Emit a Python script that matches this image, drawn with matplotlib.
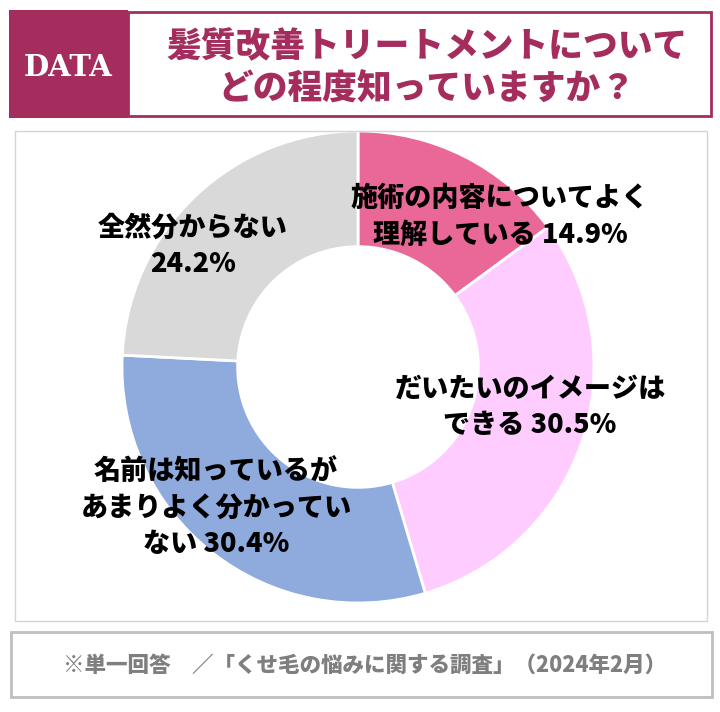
import matplotlib
matplotlib.use("Agg")
import matplotlib.pyplot as plt
from matplotlib.patches import Rectangle

plt.rcParams['font.family'] = ['Noto Sans CJK JP', 'DejaVu Sans']

labels = ["施術の内容についてよく\n理解している", "だいたいのイメージは\nできる",
          "名前は知っているが\nあまりよく分かってい\nない", "全然分からない\n"]
values = [14.9, 30.5, 30.4, 24.2]
colors = ["#E96897", "#FFCCFF", "#8FAADC", "#D9D9D9"]
# label centres in pixels (x, y from top)
label_pos = [(500, 216), (530, 407), (216, 507), (193, 246)]

title = "髪質改善トリートメントについて\nどの程度知っていますか？"
footer = "※単一回答　／「くせ毛の悩みに関する調査」（2024年2月）"
accent = "#A52D5E"

W, H = 720, 712
fig = plt.figure(figsize=(W / 100, H / 100), dpi=100)


def box(x0, y0, x1, y1, **kw):
    # pixel box, y measured from the top
    fig.patches.append(Rectangle((x0 / W, 1 - y1 / H), (x1 - x0) / W, (y1 - y0) / H,
                                 transform=fig.transFigure, **kw))


def ftext(x, y, s, **kw):
    fig.text(x / W, 1 - y / H, s, **kw)


# header
box(128, 12, 711, 116, facecolor="white", edgecolor=accent, linewidth=2)
box(9, 10, 128, 118, facecolor=accent, edgecolor="none")
ftext(68, 68, "DATA", color="white", fontsize=21, fontweight="bold",
      family="DejaVu Serif", ha="center", va="center")
ftext(427, 68, title, color=accent, fontsize=25, fontweight="heavy",
      ha="center", va="center", linespacing=1.25)

# chart panel and footer
box(15, 131, 707, 621, facecolor="none", edgecolor="#D4D4D4", linewidth=1)
box(11, 632, 712, 697, facecolor="none", edgecolor="#BFBFBF", linewidth=2)
ftext(365, 665, footer, color="#7F7F7F", fontsize=15.5, fontweight="heavy",
      ha="center", va="center")

# donut
cx, cy, r = 358, 367, 236
ax = fig.add_axes([(cx - r) / W, 1 - (cy + r) / H, 2 * r / W, 2 * r / H])
ax.pie(values, colors=colors, startangle=90, counterclock=False, radius=1,
       wedgeprops=dict(width=0.49, edgecolor="white", linewidth=2))
ax.set_xlim(-1, 1)
ax.set_ylim(-1, 1)
ax.set_aspect("equal")
ax.axis("off")

for lab, v, (x, y) in zip(labels, values, label_pos):
    s = lab + (" " if not lab.endswith("\n") else "") + f"{v:.1f}%"
    ftext(x, y, s, fontsize=19.5, fontweight="heavy", color="black",
          ha="center", va="center", linespacing=1.35)

fig.savefig("out.png", dpi=100)
